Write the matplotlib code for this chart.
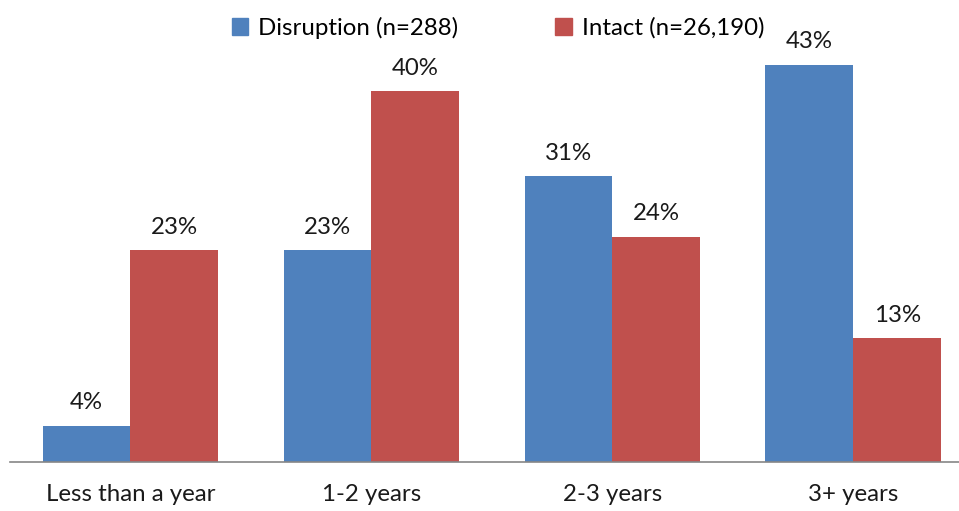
import numpy as np
import matplotlib.pyplot as plt
from matplotlib.patches import Patch

categories = ['Less than a year', '1-2 years', '2-3 years', '3+ years']
disruption = [3.9, 22.9, 30.9, 43.0]
intact = [22.9, 40.1, 24.4, 13.4]
series_names = ['Disruption (n=288)', 'Intact (n=26,190)']

blue = '#4F81BD'
red = '#C0504D'

plt.rcParams['font.family'] = ['Lato', 'DejaVu Sans']
fs = 17.3

fig = plt.figure(figsize=(9.59, 5.11), dpi=100)
ax = fig.add_axes([10 / 959, 49 / 511, 949 / 959, 462 / 511])

x = np.arange(len(categories))
w = 0.365

b1 = ax.bar(x - w / 2, disruption, w, color=blue)
b2 = ax.bar(x + w / 2, intact, w, color=red)

for bars, vals in [(b1, disruption), (b2, intact)]:
    for bar, v in zip(bars, vals):
        ax.annotate(f'{v:.0f}%', (bar.get_x() + bar.get_width() / 2, v),
                    xytext=(0, 9), textcoords='offset points',
                    ha='center', va='bottom', fontsize=fs, color='#1a1a1a')

ax.set_xlim(-0.5, 3.438)
ax.set_ylim(0, 50)
ax.set_xticks(x)
ax.set_xticklabels(categories, fontsize=fs, color='#1a1a1a')
ax.tick_params(axis='x', length=0, pad=16)
ax.set_yticks([])
for s in ['top', 'right', 'left']:
    ax.spines[s].set_visible(False)
ax.spines['bottom'].set_color('#868686')
ax.spines['bottom'].set_linewidth(1.2)

handles = [Patch(color=blue), Patch(color=red)]
fig.legend(handles, series_names, loc='center', ncol=2, frameon=False,
           bbox_to_anchor=(498 / 959, 1 - 28 / 511), fontsize=fs,
           handlelength=0.7, handleheight=0.7, handletextpad=0.4,
           columnspacing=4.05)

fig.savefig('out.png', dpi=100)
